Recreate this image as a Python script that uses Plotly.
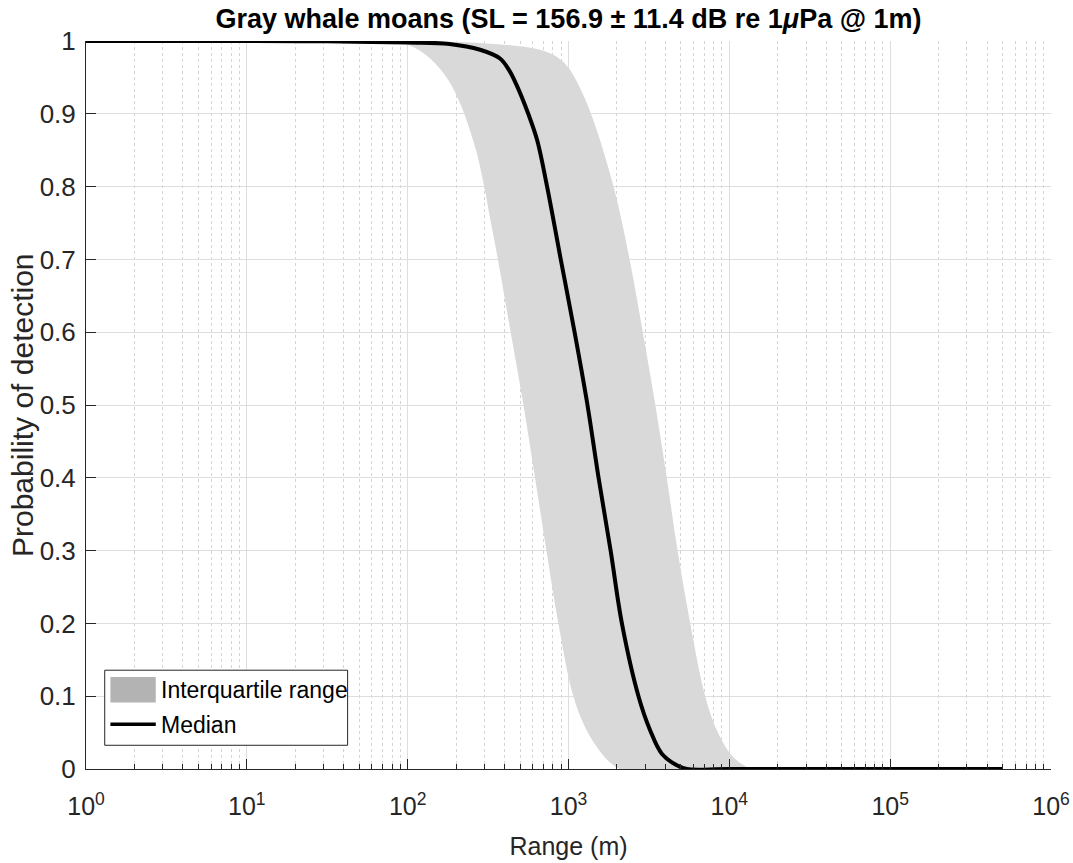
import plotly.graph_objects as go

# ---------------- data ----------------
range_median = [1, 10, 31.6, 100, 182, 282, 375, 427, 479, 562, 638, 736, 895, 1091,
                1312, 1538, 1828, 2148, 2723, 3221, 3802, 4721, 5445, 10000, 500000]
p_median = [1.0, 1.0, 0.9995, 0.998, 0.996, 0.988, 0.976, 0.960, 0.938, 0.90, 0.864,
            0.80, 0.70, 0.60, 0.50, 0.40, 0.30, 0.20, 0.10, 0.053, 0.021, 0.005,
            0.0, 0.0, 0.0]

range_q25 = [1, 10, 80, 105, 138, 178, 214, 240, 269, 299, 327, 364, 437, 525, 619,
             729, 865, 1072, 1300, 1611, 1905, 2089, 10000, 500000]
p_q25 = [1.0, 1.0, 0.999, 0.993, 0.976, 0.947, 0.912, 0.882, 0.846, 0.80, 0.754, 0.70,
         0.60, 0.50, 0.40, 0.30, 0.20, 0.10, 0.053, 0.021, 0.005, 0.0, 0.0, 0.0]

range_q75 = [1, 10, 100, 295, 603, 805, 977, 1122, 1380, 1905, 2399, 2897, 3467,
             4083, 4764, 5715, 7079, 8375, 10139, 12303, 14125, 500000]
p_q75 = [1.0, 1.0, 1.0, 0.997, 0.990, 0.981, 0.966, 0.945, 0.90, 0.80, 0.70, 0.60,
         0.50, 0.40, 0.30, 0.20, 0.10, 0.053, 0.021, 0.005, 0.0, 0.0]

x_tick_values = [1, 10, 100, 1000, 10000, 100000, 1000000]
x_tick_labels = ["10<sup>0</sup>", "10<sup>1</sup>", "10<sup>2</sup>", "10<sup>3</sup>",
                 "10<sup>4</sup>", "10<sup>5</sup>", "10<sup>6</sup>"]
y_tick_values = [0, 0.1, 0.2, 0.3, 0.4, 0.5, 0.6, 0.7, 0.8, 0.9, 1]
y_tick_labels = ["0", "0.1", "0.2", "0.3", "0.4", "0.5", "0.6", "0.7", "0.8", "0.9", "1"]
legend_labels = ["Interquartile range", "Median"]

title_text = "Gray whale moans (SL = 156.9 \u00b1 11.4 dB re 1<i>\u03bc</i>Pa @ 1m)"
x_title = "Range (m)"
y_title = "Probability of detection"

# minor log ticks 2..9 per decade
minor_vals = [m * 10 ** k for k in range(6) for m in range(2, 10)]

FONT = "Liberation Sans, Arial, sans-serif"
AX = "#262626"
BAND = "#d9d9d9"

fig = go.Figure()
fig.add_trace(go.Scatter(x=range_q25, y=p_q25, mode="lines",
                         line=dict(width=0, color=BAND, shape="spline", smoothing=1.0),
                         showlegend=False, hoverinfo="skip"))
fig.add_trace(go.Scatter(x=range_q75, y=p_q75, mode="lines", fill="tonexty",
                         fillcolor=BAND,
                         line=dict(width=0, color=BAND, shape="spline", smoothing=1.0),
                         name=legend_labels[0], showlegend=False))
fig.add_trace(go.Scatter(x=range_median, y=p_median, mode="lines",
                         line=dict(width=4, color="black", shape="spline", smoothing=1.0),
                         name=legend_labels[1], showlegend=False))

# legend drawn as a MATLAB-style box
fig.add_shape(type="rect", xref="paper", yref="paper", x0=0.0194, x1=0.2711,
              y0=0.0326, y1=0.1357, line=dict(color=AX, width=1), fillcolor="white",
              layer="above")
fig.add_shape(type="rect", xref="paper", yref="paper", x0=0.0253, x1=0.0723,
              y0=0.0913, y1=0.1265, line=dict(width=0), fillcolor="#b3b3b3",
              layer="above")
fig.add_shape(type="line", xref="paper", yref="paper", x0=0.0253, x1=0.0723,
              y0=0.0615, y1=0.0615, line=dict(color="black", width=3.5), layer="above")
fig.add_annotation(xref="paper", yref="paper", x=0.0754, y=0.1079, text=legend_labels[0],
                   showarrow=False, xanchor="left", yanchor="middle",
                   font=dict(family=FONT, size=23, color="black"))
fig.add_annotation(xref="paper", yref="paper", x=0.0754, y=0.0601, text=legend_labels[1],
                   showarrow=False, xanchor="left", yanchor="middle",
                   font=dict(family=FONT, size=23, color="black"))

# y-axis title placed precisely
fig.add_annotation(xref="paper", yref="paper", x=0, y=0.5, xshift=-64, text=y_title,
                   textangle=-90, showarrow=False, xanchor="center", yanchor="middle",
                   font=dict(family=FONT, size=30, color=AX))

fig.update_layout(
    width=1073, height=863,
    margin=dict(l=86, r=22, t=41, b=94),
    paper_bgcolor="white", plot_bgcolor="white",
    font=dict(family=FONT, color=AX, size=25),
    title=dict(text="<b>" + title_text + "</b>", x=0.5, xref="paper", xanchor="center",
               y=0.979, yanchor="middle", font=dict(family=FONT, size=27, color="black")),
    showlegend=False,
)

fig.update_xaxes(
    type="log", range=[0, 6], automargin=False,
    tickmode="array", tickvals=x_tick_values, ticktext=x_tick_labels,
    ticks="inside", ticklen=10, tickwidth=1, tickcolor=AX,
    showline=True, linecolor=AX, linewidth=1,
    showgrid=True, gridcolor="#dedede", gridwidth=1,
    minor=dict(tickmode="array", tickvals=minor_vals, ticks="inside", ticklen=5,
               tickcolor=AX, showgrid=True, gridcolor="#d4d4d4", griddash="dot",
               gridwidth=1),
    ticklabelstandoff=15,
    tickfont=dict(family=FONT, size=25, color=AX),
    title=dict(text=x_title, font=dict(family=FONT, size=25, color=AX), standoff=18),
    zeroline=False,
)
fig.update_yaxes(
    range=[0, 1], automargin=False,
    tickmode="array", tickvals=y_tick_values, ticktext=y_tick_labels,
    ticks="inside", ticklen=10, tickwidth=1, tickcolor=AX,
    showline=True, linecolor=AX, linewidth=1,
    showgrid=True, gridcolor="#dedede", gridwidth=1,
    ticklabelstandoff=4,
    tickfont=dict(family=FONT, size=26, color=AX),
    zeroline=False,
)

fig.write_html("out.html",
               config={"displayModeBar": False},
               post_script="document.body.style.margin='0';"
                           "document.body.style.overflow='hidden';")
